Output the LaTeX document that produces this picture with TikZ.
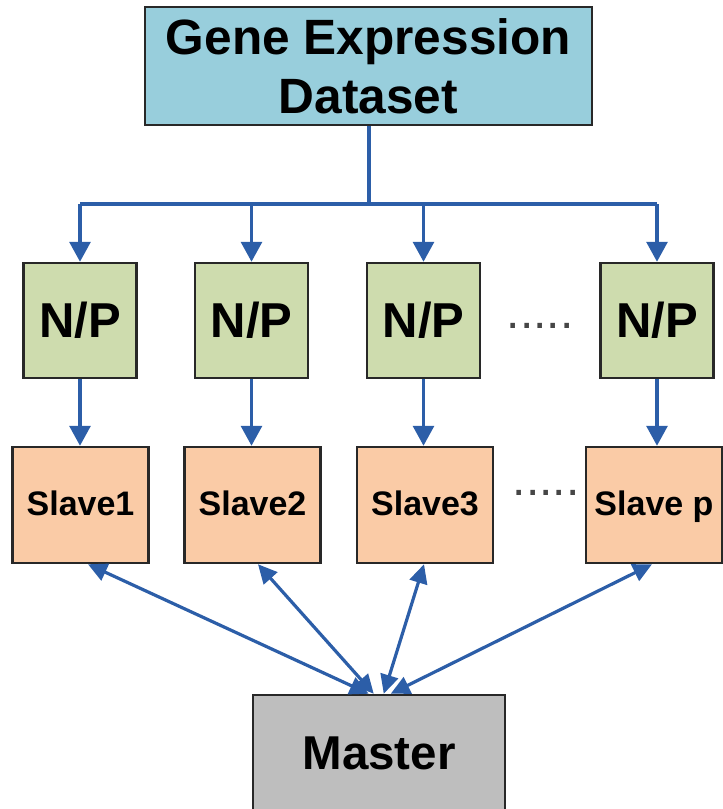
\documentclass[tikz,border=0pt]{standalone}
\usepackage{fontspec}
\setmainfont{Liberation Sans}
\usetikzlibrary{arrows.meta,calc}

\definecolor{datafill}{RGB}{152,206,220}
\definecolor{npfill}{RGB}{206,220,174}
\definecolor{slavefill}{RGB}{250,203,166}
\definecolor{masterfill}{RGB}{190,190,190}
\definecolor{flowblue}{RGB}{44,94,168}
\definecolor{edgegray}{RGB}{40,40,40}
\definecolor{dotgray}{RGB}{70,70,70}

\tikzset{
  box/.style={draw=edgegray, line width=2.5pt, inner sep=0pt, align=center},
  databox/.style={box, fill=datafill, minimum width=447pt, minimum height=118pt,
    font=\fontsize{49.6}{59}\selectfont\bfseries},
  npbox/.style={box, fill=npfill, minimum width=113pt, minimum height=115pt,
    font=\fontsize{49}{58}\selectfont\bfseries},
  slavebox/.style={box, fill=slavefill, minimum width=136pt, minimum height=116pt,
    text height=24pt, text depth=4pt,
    font=\fontsize{34}{40}\selectfont\bfseries},
  masterbox/.style={box, fill=masterfill, minimum width=252pt, minimum height=117pt,
    font=\fontsize{47.5}{56}\selectfont\bfseries},
  flow/.style={draw=flowblue, line width=3.2pt, -{Triangle[length=20pt,width=21pt]}},
  wire/.style={draw=flowblue, line width=3.2pt},
  link/.style={draw=flowblue, line width=3.2pt,
    {Triangle[length=19pt,width=18pt]}-{Triangle[length=19pt,width=18pt]}},
  ellipsis/.style={text=dotgray, anchor=base, inner sep=0pt,
    font=\fontsize{48}{48}\selectfont}
}

\begin{document}
\begin{tikzpicture}[x=1pt,y=-1pt]
  \useasboundingbox (0,0) rectangle (723,809);

  % source data
  \node[databox] (data) at (368.5,66) {Gene Expression\\Dataset};

  % normalisation / partition stage
  \node[npbox] (np1) at (80,320.5)    {N/P};
  \node[npbox] (np2) at (251.5,320.5) {N/P};
  \node[npbox] (np3) at (423.5,320.5) {N/P};
  \node[npbox] (np4) at (657,320.5)   {N/P};
  \node[ellipsis] (npdots) at (540,328.5) {.....};

  % worker nodes
  \node[slavebox] (sl1) at (80.5,505)  {Slave1};
  \node[slavebox] (sl2) at (252.5,505) {Slave2};
  \node[slavebox] (sl3) at (425,505)   {Slave3};
  \node[slavebox] (slp) at (654,505)   {Slave p};
  \node[ellipsis] (sldots) at (546,495.5) {.....};

  % coordinating node
  \node[masterbox] (ms) at (379,753.5) {Master};

  % distribution bus
  \coordinate (bus) at (369,204);
  \draw[wire] (data.south -| bus) -- (bus);
  \draw[wire] (bus -| np1) -- (bus -| np4);
  \foreach \n in {np1,np2,np3,np4}
    \draw[flow] (bus -| \n) -- (\n.north);

  % stage to worker
  \draw[flow] (np1.south) -- (np1 |- sl1.north);
  \draw[flow] (np2.south) -- (np2 |- sl2.north);
  \draw[flow] (np3.south) -- (np3 |- sl3.north);
  \draw[flow] (np4.south) -- (np4 |- slp.north);

  % master <-> workers
  \draw[link] ($(sl1.south)+(7.5,0)$) -- ($(ms.north west)+(117,0)$);
  \draw[link] ($(sl2.south)+(5.5,0)$) -- ($(ms.north west)+(122,0)$);
  \draw[link] ($(sl3.south)+(-1,0)$)  -- ($(ms.north west)+(132,0)$);
  \draw[link] ($(slp.south)+(-2,0)$)  -- ($(ms.north west)+(139,0)$);
\end{tikzpicture}
\end{document}
